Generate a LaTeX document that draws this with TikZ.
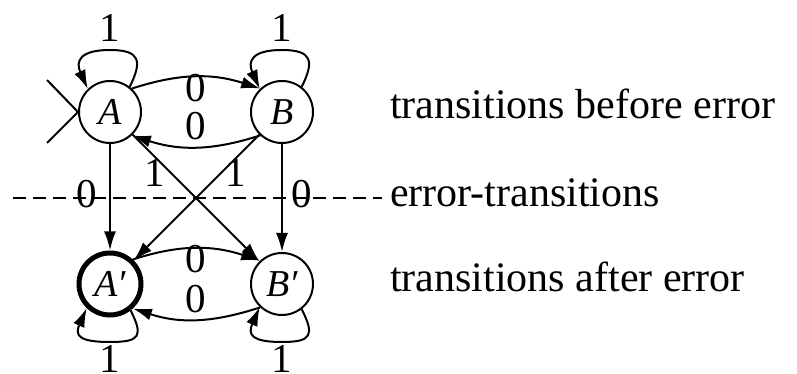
\documentclass[tikz,border=0pt]{standalone}
\usepackage{fontspec}
\setmainfont{Liberation Serif}
\usetikzlibrary{arrows.meta}
\begin{document}
\begin{tikzpicture}[x=1pt,y=1pt,
  state/.style={circle,draw,line width=2pt,minimum size=62pt,inner sep=0pt,
    font=\fontsize{38}{44}\selectfont\itshape},
  accept/.style={state,line width=5pt},
  lbl/.style={anchor=base,inner sep=0pt,font=\fontsize{41}{48}\selectfont},
  txt/.style={anchor=base west,inner sep=0pt,font=\fontsize{42}{48}\selectfont},
  edge/.style={line width=2pt,-{Latex[length=19pt,width=12pt]}},
  plain/.style={line width=2pt}]
\useasboundingbox (0,0) rectangle (797,374);

% states
\node[state]  (A)  at (110,262) {A};
\node[state]  (B)  at (282,262) {B};
\node[accept] (A2) at (110,90)  {A′};
\node[state]  (B2) at (282,90)  {B′};

% separator between the two copies of the automaton
\coordinate (d1) at (13,176);
\coordinate (d2) at (382,176);
\draw[plain,dash pattern=on 13pt off 7pt] (d1) -- (d2);

% initial marker
\coordinate (s1) at (47,294);
\coordinate (s2) at (47,231);
\draw[plain] (s1) -- (A.west) -- (s2);

% self loops above the upper states
\draw[edge] (A.52) .. controls +(13,26) and +(30,0) .. ([yshift=62pt]A.center)
  .. controls +(-30,0) and +(-12.5,28) .. (A.134);
\draw[edge] (B.52) .. controls +(13,26) and +(30,0) .. ([yshift=62pt]B.center)
  .. controls +(-30,0) and +(-12.5,28) .. (B.134);

% self loops below the lower states
\draw[edge] (A2.-52) .. controls +(13,-26) and +(30,0) .. ([yshift=-58pt]A2.center)
  .. controls +(-30,0) and +(-12.5,-28) .. (A2.-134);
\draw[edge] (B2.-52) .. controls +(13,-26) and +(30,0) .. ([yshift=-58pt]B2.center)
  .. controls +(-30,0) and +(-12.5,-28) .. (B2.-134);

% transitions before the error
\draw[edge] (A.47) to[out=18,in=162] (B.133);
\draw[edge] (B.-133) to[out=-162,in=-18] (A.-47);

% error transitions
\draw[edge] (A.south) -- (A2.north);
\draw[edge] (B.south) -- (B2.north);
\draw[edge] (A.-45) -- (B2.135);
\draw[edge] (B.-135) -- (A2.45);

% transitions after the error
\draw[edge] (A2.47) to[out=18,in=162] (B2.133);
\draw[edge] (B2.-133) to[out=-162,in=-18] (A2.-47);

% edge labels
\node[lbl] (la) at (110,332) {1};
\node[lbl] (lb) at (282,332) {1};
\node[lbl] (lab) at (196,272) {0};
\node[lbl] (lba) at (196,234) {0};
\node[lbl] (lx1) at (155,187) {1};
\node[lbl] (lx2) at (236,187) {1};
\node[lbl] (lv1) at (87,166) {0};
\node[lbl] (lv2) at (302,166) {0};
\node[lbl] (lab2) at (196,101) {0};
\node[lbl] (lba2) at (196,61) {0};
\node[lbl] (la2) at (110,1) {1};
\node[lbl] (lb2) at (282,1) {1};

% legend
\node[txt] (t1) at (390,255) {transitions before error};
\node[txt] (t2) at (390,167) {error-transitions};
\node[txt] (t3) at (390,82)  {transitions after error};
\end{tikzpicture}
\end{document}
